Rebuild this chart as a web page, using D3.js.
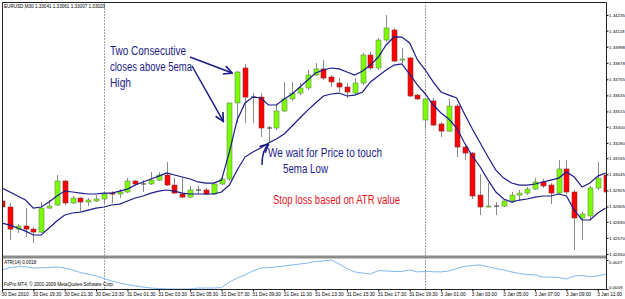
<!DOCTYPE html>
<html>
<head>
<meta charset="utf-8">
<script src="https://cdn.jsdelivr.net/npm/d3@7"></script>
<style>
  body { margin: 0; background: #fff; }
  svg { display: block; }
  .tiny { font-family: "Liberation Sans", Arial, sans-serif; font-size: 4.6px; fill: #000; }
  .axisTxt { font-family: "Liberation Sans", Arial, sans-serif; font-size: 4.4px; fill: #000; }
  .timeTxt { font-family: "Liberation Sans", Arial, sans-serif; font-size: 4.8px; fill: #000; }
  .note { font-family: "Liberation Sans", Arial, sans-serif; font-size: 12px; }
</style>
</head>
<body>
<svg width="625" height="299"></svg>
<script>
// EURUSD M30, 78 bars
const opens = [1.32846,1.32801,1.32636,1.32659,1.32636,1.32614,1.32793,1.32816,1.32995,1.32831,
  1.32868,1.32838,1.32846,1.32861,1.32905,1.32898,1.32913,1.32995,1.32973,1.32973,
  1.33002,1.33040,1.32965,1.32898,1.32875,1.32928,1.32928,1.32898,1.32973,1.33010,
  1.33578,1.33839,1.33622,1.33622,1.33391,1.33391,1.33518,1.33608,1.33652,1.33690,
  1.33787,1.33832,1.33772,1.33727,1.33697,1.33652,1.33727,1.33936,1.33839,1.34048,
  1.34123,1.33899,1.33914,1.33637,1.33451,1.33593,1.33421,1.33368,1.33555,1.33249,
  1.33204,1.32890,1.32801,1.32808,1.32808,1.32846,1.32890,1.32905,1.32935,1.32988,
  1.32965,1.32905,1.33085,1.32913,1.32719,1.32734,1.32943,1.33040];
const highs = [1.32861,1.32831,1.32674,1.32793,1.32651,1.32838,1.32853,1.33040,1.33002,1.32883,
  1.32875,1.32868,1.32890,1.32905,1.32920,1.32935,1.33017,1.33002,1.33002,1.33062,
  1.33062,1.33137,1.33017,1.33025,1.32958,1.32958,1.32943,1.32980,1.33025,1.33578,
  1.33817,1.33869,1.33652,1.33652,1.33406,1.33570,1.33735,1.33735,1.33727,1.33824,
  1.33876,1.33899,1.33787,1.33764,1.33727,1.33764,1.33951,1.33959,1.34063,1.34235,
  1.34138,1.33988,1.33921,1.33645,1.33615,1.33615,1.33436,1.33608,1.33570,1.33264,
  1.33212,1.33047,1.32980,1.32838,1.32853,1.32913,1.32928,1.32950,1.33017,1.33010,
  1.32980,1.33152,1.33152,1.32928,1.32763,1.32958,1.33137,1.33062];
const lows = [1.32786,1.32554,1.32607,1.32577,1.32532,1.32607,1.32786,1.32808,1.32816,1.32823,
  1.32771,1.32808,1.32838,1.32831,1.32831,1.32868,1.32905,1.32958,1.32913,1.32965,
  1.32995,1.32958,1.32898,1.32868,1.32868,1.32898,1.32890,1.32890,1.32965,1.32995,
  1.33428,1.33428,1.33428,1.33324,1.33286,1.33376,1.33510,1.33593,1.33637,1.33675,
  1.33779,1.33749,1.33697,1.33660,1.33615,1.33645,1.33712,1.33824,1.33824,1.34033,
  1.33884,1.33876,1.33622,1.33600,1.33391,1.33406,1.33324,1.33361,1.33174,1.33152,
  1.32861,1.32741,1.32801,1.32741,1.32801,1.32831,1.32846,1.32890,1.32928,1.32943,
  1.32823,1.32898,1.32898,1.32480,1.32554,1.32704,1.32928,1.32905];
const closes = [1.32801,1.32636,1.32659,1.32636,1.32614,1.32793,1.32808,1.32995,1.32831,1.32868,
  1.32838,1.32853,1.32861,1.32898,1.32898,1.32913,1.32995,1.32973,1.32973,1.33002,
  1.33040,1.32965,1.32905,1.32875,1.32928,1.32928,1.32898,1.32973,1.33010,1.33578,
  1.33809,1.33622,1.33622,1.33391,1.33391,1.33518,1.33608,1.33652,1.33690,1.33787,
  1.33832,1.33764,1.33735,1.33697,1.33660,1.33727,1.33936,1.33839,1.34048,1.34138,
  1.33891,1.33906,1.33630,1.33608,1.33608,1.33413,1.33368,1.33555,1.33249,1.33204,
  1.32883,1.32801,1.32808,1.32808,1.32846,1.32890,1.32905,1.32935,1.32988,1.32958,
  1.32905,1.33085,1.32913,1.32719,1.32748,1.32943,1.33017,1.32913];

// 5 ema of highs / lows (the two navy lines)
const emaHigh = [1.32943,1.32913,1.32883,1.32853,1.32793,1.32801,1.32838,1.32883,1.32920,1.32913,
  1.32905,1.32898,1.32898,1.32905,1.32905,1.32920,1.32935,1.32965,1.32988,1.33010,
  1.33032,1.33055,1.33040,1.33025,1.33010,1.32988,1.32980,1.32980,1.33002,1.33212,
  1.33451,1.33578,1.33622,1.33615,1.33563,1.33563,1.33608,1.33645,1.33697,1.33749,
  1.33802,1.33824,1.33839,1.33832,1.33809,1.33787,1.33817,1.33861,1.33921,1.34011,
  1.34071,1.34070,1.34026,1.33899,1.33824,1.33735,1.33660,1.33637,1.33615,1.33495,
  1.33383,1.33279,1.33174,1.33077,1.33017,1.32980,1.32965,1.32965,1.32973,1.32988,
  1.33002,1.33017,1.33062,1.33025,1.32950,1.32980,1.33032,1.33055];
const emaLow = [1.32681,1.32666,1.32644,1.32621,1.32592,1.32592,1.32644,1.32696,1.32741,1.32756,
  1.32763,1.32778,1.32793,1.32801,1.32816,1.32823,1.32846,1.32868,1.32883,1.32905,
  1.32920,1.32928,1.32920,1.32905,1.32898,1.32898,1.32898,1.32898,1.32913,1.32965,
  1.33077,1.33174,1.33212,1.33241,1.33279,1.33309,1.33346,1.33406,1.33466,1.33525,
  1.33578,1.33630,1.33645,1.33652,1.33630,1.33637,1.33660,1.33735,1.33779,1.33824,
  1.33861,1.33869,1.33794,1.33712,1.33645,1.33563,1.33503,1.33458,1.33391,1.33279,
  1.33182,1.33100,1.33002,1.32913,1.32861,1.32838,1.32853,1.32861,1.32875,1.32883,
  1.32883,1.32898,1.32883,1.32778,1.32704,1.32704,1.32756,1.32793];

// ATR(14) sub window
const atr = [0.00208,0.00223,0.00228,0.00228,0.00220,0.00222,0.00223,0.00227,0.00220,0.00208,
  0.00192,0.00183,0.00171,0.00155,0.00140,0.00127,0.00118,0.00109,0.00102,0.00096,
  0.00093,0.00090,0.00090,0.00090,0.00090,0.00096,0.00096,0.00096,0.00099,0.00133,
  0.00158,0.00177,0.00202,0.00220,0.00223,0.00227,0.00233,0.00239,0.00245,0.00251,
  0.00261,0.00264,0.00270,0.00245,0.00217,0.00196,0.00189,0.00183,0.00204,0.00202,
  0.00199,0.00199,0.00208,0.00196,0.00199,0.00197,0.00196,0.00202,0.00217,0.00230,
  0.00236,0.00239,0.00228,0.00217,0.00208,0.00196,0.00186,0.00180,0.00177,0.00164,
  0.00164,0.00161,0.00152,0.00171,0.00174,0.00166,0.00171,0.00183];

const priceTicks = [1.34235,1.34118,1.33998,1.33878,1.33755,1.33635,1.33515,1.33400,
  1.33280,1.33165,1.33045,1.32925,1.32805,1.32690,1.32570,1.32450];
const atrTicks = [0.0009, 0.0027];
const timeLabels = ['30 Dec 2010','30 Dec 19:30','30 Dec 21:30','30 Dec 23:30','31 Dec 01:30',
  '31 Dec 03:30','31 Dec 05:30','31 Dec 07:30','31 Dec 09:30','31 Dec 11:30','31 Dec 13:30',
  '31 Dec 15:30','31 Dec 17:30','31 Dec 19:30','3 Jan 01:00','3 Jan 03:00','3 Jan 05:00',
  '3 Jan 07:00','3 Jan 09:00','3 Jan 11:00'];
const timeBars = timeLabels.map((d, i) => i * 4);
const daySeparators = [13, 54];

const svg = d3.select('svg');
const width = +svg.attr('width');
const height = +svg.attr('height');

// window geometry
const pLeft = 2.5, pRight = 606.5, pTop = 2.5;
const mainBottom = 255.5, indTop = 258.5, indBottom = 289.5;

const x = d3.scaleLinear().domain([0, 76]).range([2, 597.8]);
const y = d3.scaleLinear().domain([1.32450, 1.34235]).range([254, 15]);
const yAtr = d3.scaleLinear().domain([0.0009, 0.0027]).range([289, 260]);

const defs = svg.append('defs');
defs.append('clipPath').attr('id', 'mainClip')
  .append('rect').attr('x', pLeft).attr('y', pTop).attr('width', pRight - pLeft).attr('height', mainBottom - pTop);
defs.append('clipPath').attr('id', 'indClip')
  .append('rect').attr('x', pLeft).attr('y', indTop).attr('width', pRight - pLeft).attr('height', indBottom - indTop);
defs.append('marker').attr('id', 'head')
  .attr('viewBox', '0 0 10 10').attr('refX', 9).attr('refY', 5)
  .attr('markerWidth', 7).attr('markerHeight', 7).attr('orient', 'auto')
  .append('path').attr('d', 'M1,1 L9,5 L1,9').attr('fill', 'none')
  .attr('stroke', '#1c1c8a').attr('stroke-width', 1.6);

// day separators (dotted)
svg.append('g').selectAll('line').data(daySeparators).join('line')
  .attr('x1', d => Math.round(x(d)) + 0.5).attr('x2', d => Math.round(x(d)) + 0.5)
  .attr('y1', pTop).attr('y2', indBottom)
  .attr('stroke', '#444').attr('stroke-dasharray', '1,2');

// candles
const main = svg.append('g').attr('clip-path', 'url(#mainClip)');
const bars = d3.range(opens.length);
const bodyW = 5;

main.append('g').selectAll('line').data(bars).join('line')
  .attr('x1', i => Math.round(x(i)) + 0.5).attr('x2', i => Math.round(x(i)) + 0.5)
  .attr('y1', i => y(highs[i])).attr('y2', i => y(lows[i]))
  .attr('stroke', '#8a8a8a').attr('stroke-width', 1);

main.append('g').selectAll('rect').data(bars.filter(i => opens[i] !== closes[i])).join('rect')
  .attr('x', i => Math.round(x(i)) + 0.5 - bodyW / 2)
  .attr('y', i => y(Math.max(opens[i], closes[i])))
  .attr('width', bodyW)
  .attr('height', i => Math.max(1, Math.abs(y(opens[i]) - y(closes[i]))))
  .attr('fill', i => closes[i] > opens[i] ? '#7cfc00' : '#ff0000')
  .attr('stroke', i => closes[i] > opens[i] ? '#6a8a50' : '#8a3030')
  .attr('stroke-width', 0.6);

// doji
main.append('g').selectAll('line').data(bars.filter(i => opens[i] === closes[i])).join('line')
  .attr('x1', i => Math.round(x(i)) + 0.5 - bodyW / 2).attr('x2', i => Math.round(x(i)) + 0.5 + bodyW / 2)
  .attr('y1', i => y(opens[i])).attr('y2', i => y(opens[i]))
  .attr('stroke', '#333').attr('stroke-width', 1);

// the two ema envelopes
const emaLine = d3.line().x((d, i) => x(i)).y(d => y(d));
[emaHigh, emaLow].forEach(s => {
  main.append('path').datum(s)
    .attr('d', emaLine)
    .attr('fill', 'none')
    .attr('stroke', '#1c1c8a')
    .attr('stroke-width', 1.2);
});

// ATR window
svg.append('path').datum(atr)
  .attr('clip-path', 'url(#indClip)')
  .attr('d', d3.line().x((d, i) => x(i)).y(d => yAtr(d)))
  .attr('fill', 'none')
  .attr('stroke', '#7fb8f2')
  .attr('stroke-width', 1);

// frame
svg.append('rect').attr('x', 2).attr('y', mainBottom).attr('width', pRight - 2).attr('height', 3)
  .attr('fill', '#8c8c8c');
svg.append('line').attr('x1', pLeft).attr('x2', pLeft).attr('y1', pTop).attr('y2', indBottom)
  .attr('stroke', '#222');
svg.append('line').attr('x1', pLeft).attr('x2', pRight).attr('y1', pTop).attr('y2', pTop)
  .attr('stroke', '#222');
svg.append('line').attr('x1', pRight).attr('x2', pRight).attr('y1', pTop).attr('y2', indBottom)
  .attr('stroke', '#222');
svg.append('line').attr('x1', pLeft).attr('x2', pRight).attr('y1', indBottom).attr('y2', indBottom)
  .attr('stroke', '#222');

// price axis
const yAxis = svg.append('g').attr('transform', `translate(${pRight},0)`)
  .call(d3.axisRight(y).tickValues(priceTicks).tickSize(2).tickPadding(0.5).tickFormat(d3.format('.5f')));
yAxis.select('.domain').remove();
yAxis.attr('font-size', null).attr('font-family', null);
yAxis.selectAll('text').attr('class', 'axisTxt');

const atrAxis = svg.append('g').attr('transform', `translate(${pRight},0)`)
  .call(d3.axisRight(yAtr).tickValues(atrTicks).tickSize(2).tickPadding(0.5).tickFormat(d3.format('.4f')));
atrAxis.select('.domain').remove();
atrAxis.attr('font-size', null).attr('font-family', null);
atrAxis.selectAll('text').attr('class', 'axisTxt')
  .attr('dy', (d, i) => i === 0 ? '-0.1em' : '0.7em');

// time axis
const xAxis = svg.append('g').attr('transform', `translate(0,${indBottom})`)
  .call(d3.axisBottom(x).tickValues(timeBars).tickSize(2).tickPadding(1)
    .tickFormat((d, i) => timeLabels[i]));
xAxis.select('.domain').remove();
xAxis.attr('font-size', null).attr('font-family', null);
xAxis.selectAll('text').attr('class', 'timeTxt')
  .attr('text-anchor', 'start').attr('x', -1);

// window captions
svg.append('text').attr('class', 'tiny').attr('x', 4).attr('y', 8)
  .text('EURUSD,M30  1.33041 1.33061 1.33007 1.33020');
svg.append('text').attr('class', 'tiny').attr('x', 4).attr('y', 264)
  .text('ATR(14) 0.0018');
svg.append('text').attr('class', 'tiny').attr('x', 4).attr('y', 286)
  .text('FxPro MT4, \u00a9 2001-2009 MetaQuotes Software Corp.');

// annotations (narrow hand lettering, squeezed to the width it takes in the shot)
const navy = '#1c1c8a';
const notes = svg.append('g').attr('class', 'note');
const note = (txt, nx, ny, w, col) => notes.append('text')
  .attr('x', nx).attr('y', ny).attr('fill', col)
  .attr('textLength', w).attr('lengthAdjust', 'spacingAndGlyphs')
  .text(txt);
note('Two Consecutive', 110, 55, 76, navy);
note('closes above 5ema', 110, 71, 82, navy);
note('High', 110, 87, 21, navy);
note('We wait for Price to touch', 268, 157, 114, navy);
note('5ema Low', 283, 173, 45, navy);
note('Stop loss based on ATR value', 273, 204, 127, '#e8141b');

const arrows = svg.append('g').attr('fill', 'none').attr('stroke', navy).attr('stroke-width', 1.5)
  .attr('marker-end', 'url(#head)');
arrows.append('path').attr('d', `M190,57 L${x(30) - 5},${y(closes[30]) + 1}`);
arrows.append('path').attr('d', `M192,66 L${x(29) - 6},${y(1.3344)}`);
arrows.append('path').attr('d', `M262,165 Q262,150 ${x(34)},${y(lows[34]) + 2}`);
</script>
</body>
</html>
